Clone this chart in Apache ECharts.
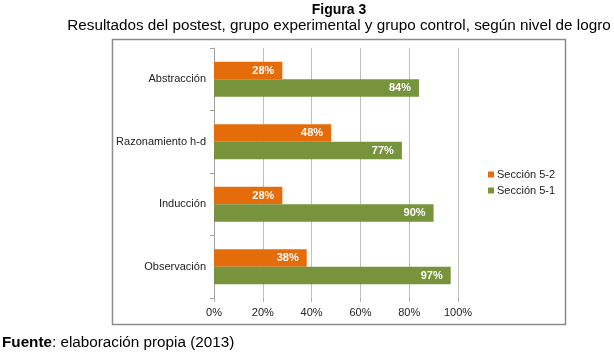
<!DOCTYPE html>
<html>
<head>
<meta charset="utf-8">
<script src="https://cdn.jsdelivr.net/npm/echarts@6/dist/echarts.min.js"></script>
<style>
  html, body { margin: 0; padding: 0; background: #fff; }
  #chart { width: 614px; height: 353px; }
</style>
</head>
<body>
<div id="chart"></div>
<script>
// categories bottom -> top (echarts category y axis starts at the bottom)
var categorias = ['Observación', 'Inducción', 'Razonamiento h-d', 'Abstracción'];
var seccion52 = [38, 28, 48, 28];
var seccion51 = [97, 90, 77, 84];
var ticksX = [0, 20, 40, 60, 80, 100];

var myChart = echarts.init(document.getElementById('chart'));
var fuente = 'Liberation Sans, Arial, sans-serif';

var etiqueta = {
    show: true,
    position: 'insideRight',
    distance: 8,
    color: '#fff',
    fontWeight: 'bold',
    fontSize: 11,
    fontFamily: fuente,
    formatter: '{c}%'
};

var option = {
    backgroundColor: '#fff',
    animation: false,
    legend: {
        orient: 'vertical',
        left: 483,
        top: 164,
        itemWidth: 6,
        itemHeight: 6,
        itemGap: 5,
        icon: 'rect',
        data: ['Sección 5-2', 'Sección 5-1'],
        textStyle: { fontSize: 11, color: '#222', fontFamily: fuente, padding: [0, 0, 0, -2] }
    },
    grid: {
        left: 214,
        right: 156,
        top: 48,
        bottom: 55
    },
    xAxis: {
        type: 'value',
        min: 0,
        max: 100,
        interval: 20,
        axisLine: { show: false },
        axisTick: { show: true, length: 4, lineStyle: { color: '#b0b0b0' } },
        splitLine: { show: true, lineStyle: { color: '#c0c0c0' } },
        axisLabel: {
            margin: 9,
            fontSize: 11,
            color: '#222',
            fontFamily: fuente,
            formatter: function (v) { return ticksX.indexOf(v) >= 0 ? v + '%' : ''; }
        }
    },
    yAxis: {
        type: 'category',
        data: categorias,
        axisLine: { show: true, lineStyle: { color: '#a0a0a0' } },
        axisTick: { show: true, length: 4, lineStyle: { color: '#a0a0a0' } },
        axisLabel: { margin: 8, fontSize: 11, color: '#222', fontFamily: fuente }
    },
    series: [{
        name: 'Sección 5-2',
        type: 'bar',
        data: seccion52,
        barGap: '0%',
        barCategoryGap: '44%',
        itemStyle: { color: '#e46c0a' },
        label: etiqueta
    }, {
        name: 'Sección 5-1',
        type: 'bar',
        data: seccion51,
        barGap: '0%',
        barCategoryGap: '44%',
        itemStyle: { color: '#77933c' },
        label: etiqueta
    }],
    graphic: [{
        type: 'rect',
        shape: { x: 112.5, y: 39.5, width: 453, height: 285 },
        style: { fill: null, stroke: '#8c8c8c', lineWidth: 1.5 },
        z: -1
    }, {
        type: 'text',
        x: 339, y: 10,
        style: {
            text: 'Figura 3', fill: '#000', font: 'bold 14px ' + fuente,
            textAlign: 'center', textVerticalAlign: 'middle'
        }
    }, {
        type: 'text',
        x: 339, y: 26,
        style: {
            text: 'Resultados del postest, grupo experimental y grupo control, según nivel de logro',
            fill: '#000', font: '15.25px ' + fuente,
            textAlign: 'center', textVerticalAlign: 'middle'
        }
    }, {
        type: 'text',
        x: 2, y: 343,
        style: {
            text: '{b|Fuente}: elaboración propia (2013)',
            fill: '#000', font: '15.25px ' + fuente,
            textVerticalAlign: 'middle',
            rich: { b: { fontWeight: 'bold', fontSize: 15.25, fontFamily: fuente, fill: '#000' } }
        }
    }]
};

myChart.setOption(option, true);
</script>
</body>
</html>
